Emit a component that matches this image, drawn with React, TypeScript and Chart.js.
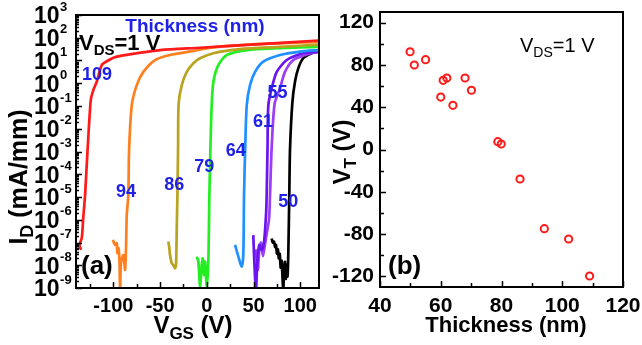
import React, { useEffect, useRef } from "react";
import { Chart, registerables } from "chart.js";
Chart.register(...registerables);

const FONT = '"Liberation Sans", Arial, Helvetica, sans-serif';

// ---------- Panel (a): I_D (mA/mm) vs V_GS (V), one curve per thickness ----------
const vgs109 = [-134.6, -136.3, -133.8, -132.4, -130.3, -127.6, -124.2, -121.5, -117.8, -112.4, -105.7, -96.4, -75, -50, -7.3, 56.9, 119.5];
const id109 = [4.7e-8, 7.8e-8, 1.6e-7, 1e-6, 1.2e-5, 1.2e-3, 0.18, 0.5, 1.17, 6.3, 10, 14.8, 20.9, 28.8, 36.3, 52.5, 75.9];

const vgs94 = [-100.6, -98.2, -96.4, -95.7, -94.6, -93.5, -92.8, -91.8, -89.3, -87.5, -86.4, -85.7, -84, -83.2, -80.3, -75, -67.9, -55.4, -39.4, -14.4, 7, 60, 119.5];
const id94 = [1.3e-7, 7.8e-8, 9.3e-8, 3.4e-8, 5.6e-8, 1.7e-8, 8.1e-10, 1.4e-8, 2.8e-8, 6.3e-9, 7.8e-8, 1.6e-6, 1.2e-5, 1.2e-3, 0.11, 0.83, 3.16, 10.5, 17.4, 26.3, 38, 53.7, 66];

const vgs86 = [-41.2, -40.1, -39.4, -37.5, -35.8, -34, -32.9, -32.2, -31.5, -30.8, -30.2, -26.8, -21.5, -14.4, -7.3, 7, 35.5, 78, 119.5];
const id86 = [1.1e-7, 5.6e-8, 2.8e-8, 1.2e-8, 1e-8, 7.4e-9, 1.2e-8, 4.2e-7, 1.2e-5, 1.3e-3, 0.126, 0.83, 3.16, 7.6, 12.6, 20.9, 31.6, 39.8, 50];

const vgs79 = [-10.8, -9.1, -7.3, -5.5, -4.4, -3, -1.9, -0.1, 1.6, 2.7, 3.8, 5.2, 7, 12.3, 21.3, 42.7, 78.3, 119.5];
const id79 = [2.4e-8, 1.45e-8, 1.15e-9, 1e-8, 2e-8, 3.7e-9, 1.45e-8, 1.15e-9, 1.45e-8, 1.2e-5, 1.3e-3, 0.11, 1.17, 6.3, 17.4, 28.8, 34.7, 39.8];

const vgs64 = [30.2, 33.7, 37.3, 39, 39.8, 41, 42.7, 46.2, 51.6, 60.4, 78.3, 99.7, 119.5];
const id64 = [7.8e-8, 2.4e-8, 8.7e-9, 2.8e-8, 1.2e-5, 1.3e-3, 0.11, 0.83, 3.16, 8.9, 17.4, 24.5, 28.8];

const vgs61 = [49.7, 50.5, 51.6, 52.6, 54, 56.1, 58.7, 61.2, 63.3, 64, 64.9, 65.8, 69.4, 74.8, 85.5, 103.2, 119.5];
const id61 = [2.1e-7, 2.8e-8, 2.7e-9, 6.9e-10, 1.4e-8, 7.8e-8, 4.7e-8, 1.07e-7, 1.6e-6, 1.2e-5, 1.3e-3, 0.11, 0.6, 3.16, 10.5, 20.9, 25.1];

const vgs55 = [52.5, 54.5, 56, 58, 60, 62.5, 64.5, 66.5, 67.6, 69.3, 72.5, 78.3, 83.6, 92.5, 108.6, 119.5];
const id55 = [5e-8, 6.3e-9, 4e-8, 1e-7, 2.5e-8, 1e-7, 3.2e-7, 1e-6, 1.2e-5, 1.3e-3, 0.126, 0.6, 3.16, 10.5, 19.5, 24];

const vgs50 = [69.4, 70.5, 71.9, 73, 74, 75, 76, 77, 78, 79, 80, 81, 81.8, 82.6, 83.6, 84.5, 85.5, 86.3, 87.2, 88.2, 89, 91.5, 94.3, 97.9, 103.2, 112.2, 119.5];
const id50 = [1.5e-7, 1e-7, 1.1e-7, 6.3e-8, 7.9e-8, 3.2e-8, 5e-8, 2e-8, 3.2e-8, 7.9e-9, 1.6e-8, 2.5e-9, 7.9e-10, 6.3e-9, 1.4e-8, 2.5e-9, 1e-8, 3.2e-9, 4e-8, 1.2e-5, 1.3e-3, 0.14, 1.17, 4.6, 12.6, 20.9, 24.5];

const vgsTicks = [-100, -50, 0, 50, 100];
const vgsMinorTicks = [-125, -75, -25, 25, 75];
const idExponents = [3, 2, 1, 0, -1, -2, -3, -4, -5, -6, -7, -8, -9];

// ---------- Panel (b): V_T (V) vs thickness (nm) ----------
const thickness = [49.9, 51.3, 55.0, 60.0, 60.8, 62.0, 64.0, 68.0, 70.1, 78.8, 79.9, 86.1, 94.1, 102.1, 109.0];
const vt = [92.4, 79.9, 84.9, 49.6, 65.4, 67.6, 41.8, 67.6, 56, 7.4, 5.2, -27.9, -74.9, -84.6, -119.6];

const thicknessTicks = [40, 60, 80, 100, 120];
const thicknessMinorTicks = [50, 70, 90, 110];
const vtTicks = [120, 80, 40, 0, -40, -80, -120];
const vtMinorTicks = [100, 60, 20, -20, -60, -100];

const curves = [
  { label: "109", v: vgs109, i: id109, color: "#ff1a1a", lx: -117.5, ly: 2.3 },
  { label: "94", v: vgs94, i: id94, color: "#ff7f1e", lx: -86.4, ly: 1.7e-5 },
  { label: "86", v: vgs86, i: id86, color: "#b8a41e", lx: -34.9, ly: 3.4e-5 },
  { label: "79", v: vgs79, i: id79, color: "#22ee22", lx: -2.8, ly: 2.1e-4 },
  { label: "64", v: vgs64, i: id64, color: "#1e90ff", lx: 31, ly: 1e-3 },
  { label: "61", v: vgs61, i: id61, color: "#6a14f2", lx: 60.1, ly: 2e-2 },
  { label: "55", v: vgs55, i: id55, color: "#9c3cf4", lx: 75.6, ly: 0.36 },
  { label: "50", v: vgs50, i: id50, color: "#000000", lx: 87.2, ly: 6.3e-6 },
];

type Part = [string, number, string, number]; // text, size, weight, dy

function drawRich(ctx: CanvasRenderingContext2D, x: number, y: number, parts: Part[], align: "left" | "center", color: string) {
  ctx.fillStyle = color;
  ctx.textBaseline = "alphabetic";
  ctx.textAlign = "left";
  let w = 0;
  for (const [t, s, wt] of parts) {
    ctx.font = `${wt} ${s}px ${FONT}`;
    w += ctx.measureText(t).width;
  }
  let cx = align === "center" ? x - w / 2 : x;
  for (const [t, s, wt, dy] of parts) {
    ctx.font = `${wt} ${s}px ${FONT}`;
    ctx.fillText(t, cx, y + dy);
    cx += ctx.measureText(t).width;
  }
}

function drawFrame(ctx: CanvasRenderingContext2D, ca: any) {
  ctx.strokeStyle = "#000";
  ctx.lineWidth = 2;
  ctx.strokeRect(ca.left, ca.top, ca.right - ca.left, ca.bottom - ca.top);
}

const panelAPlugin = {
  id: "panelA",
  afterDraw(chart: any) {
    const { ctx, chartArea: ca, scales } = chart;
    const xs = scales.x;
    const ys = scales.y;
    ctx.save();
    drawFrame(ctx, ca);
    ctx.lineWidth = 1.5;
    ctx.beginPath();
    for (const t of vgsTicks) {
      const x = Math.round(xs.getPixelForValue(t)) + 0.5;
      ctx.moveTo(x, ca.bottom); ctx.lineTo(x, ca.bottom - 6);
    }
    for (const t of vgsMinorTicks) {
      const x = Math.round(xs.getPixelForValue(t)) + 0.5;
      ctx.moveTo(x, ca.bottom); ctx.lineTo(x, ca.bottom - 4);
    }
    for (const e of idExponents) {
      const y = Math.round(ys.getPixelForValue(Math.pow(10, e))) + 0.5;
      ctx.moveTo(ca.left, y); ctx.lineTo(ca.left + 6, y);
      if (e > -9) {
        for (let m = 2; m <= 9; m++) {
          const ym = Math.round(ys.getPixelForValue(m * Math.pow(10, e - 1))) + 0.5;
          ctx.moveTo(ca.left, ym); ctx.lineTo(ca.left + 3, ym);
        }
      }
    }
    ctx.stroke();

    // x tick labels
    ctx.fillStyle = "#000";
    ctx.font = `bold 20px ${FONT}`;
    ctx.textAlign = "center";
    ctx.textBaseline = "middle";
    for (const t of vgsTicks) {
      ctx.fillText(String(t), xs.getPixelForValue(t), 306);
    }
    // y tick labels 10^n
    for (const e of idExponents) {
      const y = ys.getPixelForValue(Math.pow(10, e));
      ctx.textAlign = "left";
      ctx.textBaseline = "middle";
      ctx.font = `bold 23px ${FONT}`;
      ctx.fillText("10", 34, y + 2);
      const w = ctx.measureText("10").width;
      ctx.font = `bold 13px ${FONT}`;
      ctx.fillText(String(e), 34 + w + 0.5, y - 8);
    }

    // axis titles
    drawRich(ctx, 193, 333, [["V", 24, "bold", 0], ["GS", 17, "bold", 6], [" (V)", 24, "bold", 0]], "center", "#000");
    ctx.save();
    ctx.translate(27, 177);
    ctx.rotate(-Math.PI / 2);
    drawRich(ctx, 0, 0, [["I", 25, "bold", 0], ["D", 18, "bold", 6], [" (mA/mm)", 25, "bold", 0]], "center", "#000");
    ctx.restore();

    // annotations
    ctx.textAlign = "center";
    ctx.textBaseline = "alphabetic";
    ctx.fillStyle = "#1f22e6";
    ctx.font = `bold 19px ${FONT}`;
    ctx.fillText("Thickness (nm)", 195, 32);
    drawRich(ctx, 79, 50, [["V", 22, "bold", 0], ["DS", 15, "bold", 5], ["=1 V", 22, "bold", 0]], "left", "#000");

    ctx.fillStyle = "#1f22e6";
    ctx.font = `bold 18px ${FONT}`;
    ctx.textAlign = "center";
    ctx.textBaseline = "middle";
    for (const c of curves) {
      ctx.fillText(c.label, xs.getPixelForValue(c.lx), ys.getPixelForValue(c.ly));
    }
    ctx.fillStyle = "#000";
    ctx.font = `bold 26px ${FONT}`;
    ctx.textAlign = "left";
    ctx.fillText("(a)", 81, 267);
    ctx.restore();
  },
};

const panelBPlugin = {
  id: "panelB",
  afterDraw(chart: any) {
    const { ctx, chartArea: ca, scales } = chart;
    const xs = scales.x;
    const ys = scales.y;
    ctx.save();
    drawFrame(ctx, ca);
    ctx.lineWidth = 1.5;
    ctx.beginPath();
    for (const t of thicknessTicks) {
      const x = Math.round(xs.getPixelForValue(t)) + 0.5;
      ctx.moveTo(x, ca.bottom); ctx.lineTo(x, ca.bottom - 6);
    }
    for (const t of thicknessMinorTicks) {
      const x = Math.round(xs.getPixelForValue(t)) + 0.5;
      ctx.moveTo(x, ca.bottom); ctx.lineTo(x, ca.bottom - 4);
    }
    for (const t of vtTicks) {
      const y = Math.round(ys.getPixelForValue(t)) + 0.5;
      ctx.moveTo(ca.left, y); ctx.lineTo(ca.left + 6, y);
    }
    for (const t of vtMinorTicks) {
      const y = Math.round(ys.getPixelForValue(t)) + 0.5;
      ctx.moveTo(ca.left, y); ctx.lineTo(ca.left + 4, y);
    }
    ctx.stroke();

    ctx.fillStyle = "#000";
    ctx.font = `bold 21px ${FONT}`;
    ctx.textAlign = "center";
    ctx.textBaseline = "middle";
    for (const t of thicknessTicks) {
      ctx.fillText(String(t), xs.getPixelForValue(t), 306);
    }
    ctx.textAlign = "right";
    for (const t of vtTicks) {
      ctx.fillText(String(t), ca.left - 6, ys.getPixelForValue(t));
    }

    ctx.font = `bold 22px ${FONT}`;
    ctx.textAlign = "center";
    ctx.textBaseline = "alphabetic";
    ctx.fillText("Thickness (nm)", 184, 332);

    ctx.save();
    ctx.translate(28, 152);
    ctx.rotate(-Math.PI / 2);
    drawRich(ctx, 0, 0, [["V", 24, "bold", 0], ["T", 17, "bold", 6], [" (V)", 24, "bold", 0]], "center", "#000");
    ctx.restore();

    drawRich(ctx, 198, 52, [["V", 20, "normal", 0], ["DS", 14, "normal", 5], ["=1 V", 20, "normal", 0]], "left", "#000");

    ctx.fillStyle = "#000";
    ctx.font = `bold 26px ${FONT}`;
    ctx.textAlign = "left";
    ctx.textBaseline = "middle";
    ctx.fillText("(b)", 66, 267);
    ctx.restore();
  },
};

export default function App() {
  const refA = useRef<HTMLCanvasElement>(null);
  const refB = useRef<HTMLCanvasElement>(null);

  useEffect(() => {
    const chartA = new Chart(refA.current as HTMLCanvasElement, {
      type: "scatter",
      data: {
        datasets: curves.map((c) => ({
          label: c.label,
          data: c.v.map((v, k) => ({ x: v, y: c.i[k] })),
          showLine: true,
          borderColor: c.color,
          backgroundColor: c.color,
          borderWidth: 2.7,
          pointRadius: 0,
          tension: 0.25,
          fill: false,
        })),
      },
      options: {
        responsive: false,
        animation: false,
        devicePixelRatio: 1,
        events: [],
        layout: { padding: { left: 76, right: 3, top: 15, bottom: 57 } },
        plugins: { legend: { display: false }, tooltip: { enabled: false } },
        scales: {
          x: { type: "linear", min: -140, max: 120, display: false },
          y: { type: "logarithmic", min: 1e-9, max: 1e3, display: false },
        },
      },
      plugins: [panelAPlugin],
    } as any);

    const chartB = new Chart(refB.current as HTMLCanvasElement, {
      type: "scatter",
      data: {
        datasets: [
          {
            label: "VT",
            data: thickness.map((t, k) => ({ x: t, y: vt[k] })),
            showLine: false,
            pointStyle: "circle",
            pointRadius: 3.6,
            pointBorderWidth: 2,
            pointBorderColor: "#ff1a1a",
            pointBackgroundColor: "rgba(0,0,0,0)",
            borderColor: "#ff1a1a",
            backgroundColor: "rgba(0,0,0,0)",
          },
        ],
      },
      options: {
        responsive: false,
        animation: false,
        devicePixelRatio: 1,
        events: [],
        layout: { padding: { left: 58, right: 19, top: 12, bottom: 58 } },
        plugins: { legend: { display: false }, tooltip: { enabled: false } },
        scales: {
          x: { type: "linear", min: 40, max: 120, display: false },
          y: { type: "linear", min: -130, max: 130, display: false },
        },
      },
      plugins: [panelBPlugin],
    } as any);

    return () => {
      chartA.destroy();
      chartB.destroy();
    };
  }, []);

  return (
    <div style={{ position: "fixed", left: 0, top: 0, width: 642, height: 345, background: "#fff", overflow: "hidden" }}>
      <canvas ref={refA} width={322} height={345} style={{ position: "absolute", left: 0, top: 0, width: 322, height: 345 }} />
      <canvas ref={refB} width={320} height={345} style={{ position: "absolute", left: 322, top: 0, width: 320, height: 345 }} />
    </div>
  );
}
